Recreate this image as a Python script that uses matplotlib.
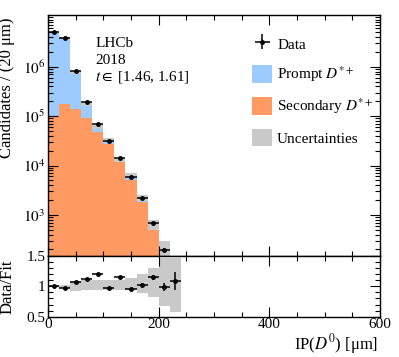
import matplotlib
matplotlib.use('Agg')
import matplotlib.pyplot as plt
import numpy as np
from matplotlib.patches import Patch
from matplotlib.ticker import MultipleLocator, FixedLocator, NullFormatter

plt.rcParams['font.family'] = ['Liberation Serif', 'DejaVu Serif']
plt.rcParams['mathtext.fontset'] = 'stix'

# bins of IP(D0) in um
edges = np.arange(0, 260, 20)
data = [5.0e6, 3.77e6, 8.2e5, 1.9e5, 7.1e4, 3.2e4, 1.45e4, 5.9e3, 2.2e3, 700, 198, 50]
data_err = [2.2e3, 1.9e3, 900, 440, 270, 180, 120, 77, 47, 26, 14, 7]
prompt = [4.85e6, 3.72e6, 6.3e5, 8.0e4, 1.1e4, 5.7e3, 600, 1.2e3, 310, 109, 20, 7]
secondary = [9.7e4, 1.75e5, 1.37e5, 9.0e4, 4.8e4, 2.7e4, 1.2e4, 5.0e3, 1.83e3, 500, 180, 39]
unc_hi = [1.01, 1.02, 1.08, 1.10, 1.10, 1.10, 1.10, 1.13, 1.20, 1.30, 1.47, 1.47]
unc_lo = [0.99, 0.98, 0.93, 0.94, 0.94, 0.94, 0.94, 0.94, 0.885, 0.83, 0.68, 0.58]

BLUE = '#9ecbff'
ORANGE = '#ff9a62'
GREY = '#c9c9c9'
FS = 11

data = np.array(data)
data_err = np.array(data_err)
total = np.array(prompt) + np.array(secondary)
centers = 0.5 * (edges[:-1] + edges[1:])
ratio = data / total
ratio_err = data_err / total

fig = plt.figure(figsize=(3.99, 3.57), dpi=100)
ax = fig.add_axes([0.1203, 0.2829, 0.8321, 0.6751])
rax = fig.add_axes([0.1203, 0.1129, 0.8321, 0.1700], sharex=ax)

# stacked fit components
ax.stairs(total, edges, fill=True, color=BLUE, baseline=1)
ax.stairs(secondary, edges, fill=True, color=ORANGE, baseline=1)
lo = total * np.array(unc_lo)
hi = total * np.array(unc_hi)
ax.bar(edges[:-1], hi - lo, bottom=lo, width=20, align='edge', color=GREY, linewidth=0)
eb = ax.errorbar(centers, data, xerr=10, yerr=data_err, fmt='o', color='black',
                 ms=2.5, lw=1.1, capsize=0)
ax.set_yscale('log')
ax.set_ylim(147, 1.12e7)
ax.set_xlim(0, 600)

# ratio panel
rax.bar(edges[:-1], np.array(unc_hi) - np.array(unc_lo), bottom=unc_lo, width=20,
        align='edge', color=GREY, linewidth=0)
rax.errorbar(centers, ratio, xerr=10, yerr=ratio_err, fmt='o', color='black',
             ms=2.5, lw=1.1, capsize=0)
rax.set_ylim(0.5, 1.5)
rax.set_yticks([0.5, 1, 1.5])
rax.set_yticklabels(['0.5', '1', '1.5'])
rax.yaxis.set_minor_locator(MultipleLocator(0.1))
rax.xaxis.set_major_locator(MultipleLocator(200))
rax.xaxis.set_minor_locator(MultipleLocator(50))

ax.yaxis.set_major_locator(FixedLocator([1e3, 1e4, 1e5, 1e6]))
ax.set_yticklabels(['$10^{3}$', '$10^{4}$', '$10^{5}$', '$10^{6}$'])
minors = [m * 10.0 ** e for e in range(2, 7) for m in range(2, 10)] + [1e7]
ax.yaxis.set_minor_locator(FixedLocator(minors))
ax.yaxis.set_minor_formatter(NullFormatter())

for a in (ax, rax):
    a.tick_params(which='both', direction='in', top=True, right=True, labelsize=FS, pad=2)
    a.tick_params(which='major', length=7, width=0.8)
    a.tick_params(which='minor', length=3.5, width=0.8)
    for s in a.spines.values():
        s.set_linewidth(1.0)
ax.tick_params(labelbottom=False)
rax.tick_params(axis='x', pad=1)

# axis titles aligned to the top / right ends
ax.set_ylabel('Candidates / (20 μm)', fontsize=12, ha='right')
ax.yaxis.set_label_coords(-0.098, 0.99)
rax.set_ylabel('Data/Fit', fontsize=12, ha='right')
rax.yaxis.set_label_coords(-0.098, 0.94)
rax.set_xlabel('IP($D^0$) [μm]', fontsize=12, ha='right')
rax.xaxis.set_label_coords(0.994, -0.25)

ax.text(0.142, 0.868, 'LHCb', transform=ax.transAxes, fontsize=FS, va='baseline')
ax.text(0.142, 0.795, '2018', transform=ax.transAxes, fontsize=FS, va='baseline')
ax.text(0.142, 0.728, '$t \\in$ [1.46, 1.61]', transform=ax.transAxes, fontsize=FS,
        va='baseline')

handles = [eb,
           Patch(color=BLUE, linewidth=0),
           Patch(color=ORANGE, linewidth=0),
           Patch(color=GREY, linewidth=0)]
labels = ['Data', 'Prompt $D^{*+}$', 'Secondary $D^{*+}$', 'Uncertainties']
ax.legend(handles, labels, loc='upper left', bbox_to_anchor=(0.614, 0.918), frameon=False,
          fontsize=FS, handlelength=1.35, handleheight=1.4, labelspacing=0.81,
          handletextpad=0.3, borderpad=0, borderaxespad=0)

fig.savefig('out.png', dpi=100)
